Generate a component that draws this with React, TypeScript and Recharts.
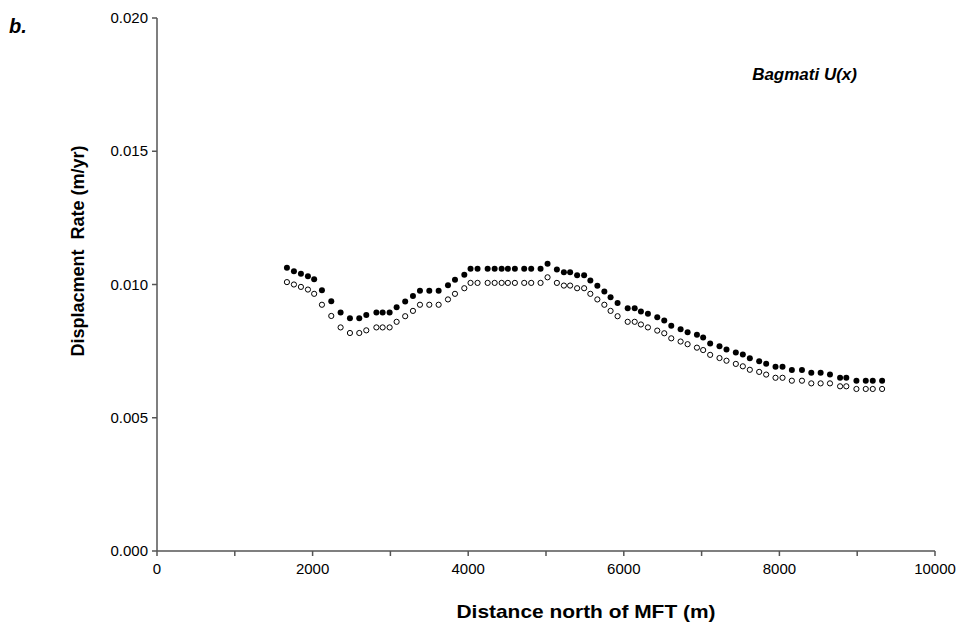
import React from 'react';
import { ScatterChart, Scatter, XAxis, YAxis } from 'recharts';

// distance north of MFT (m)
const distances = [
  1670, 1760, 1850, 1940, 2020, 2120, 2240, 2360, 2480, 2600,
  2690, 2820, 2900, 2990, 3080, 3190, 3290, 3380, 3500, 3620,
  3740, 3830, 3950, 4030, 4120, 4250, 4340, 4430, 4510, 4600,
  4720, 4810, 4930, 5020, 5140, 5230, 5310, 5400, 5490, 5570,
  5660, 5750, 5830, 5920, 6050, 6140, 6220, 6310, 6430, 6520,
  6610, 6730, 6820, 6940, 7020, 7110, 7230, 7320, 7440, 7530,
  7620, 7740, 7830, 7950, 8040, 8160, 8290, 8410, 8530, 8650,
  8780, 8860, 8990, 9110, 9200, 9320,
];

// filled markers
const rateFilled = [
  0.01063, 0.0105, 0.0104, 0.01031, 0.0102, 0.00978, 0.00937, 0.00895, 0.00873, 0.00873,
  0.00886, 0.00895, 0.00895, 0.00895, 0.00915, 0.00936, 0.00957, 0.00977, 0.00977, 0.00977,
  0.00997, 0.01018, 0.01037, 0.01059, 0.01059, 0.01059, 0.01059, 0.01059, 0.01059, 0.01059,
  0.01059, 0.01059, 0.01059, 0.01078, 0.01056, 0.01046, 0.01046, 0.01035, 0.01035, 0.01015,
  0.00995, 0.00974, 0.00952, 0.00931, 0.00911, 0.00911, 0.00899, 0.0089, 0.00877, 0.00865,
  0.00845, 0.00832, 0.00821, 0.00811, 0.00801, 0.00779, 0.00768, 0.00756, 0.00745, 0.00737,
  0.00723, 0.00712, 0.00703, 0.00691, 0.00691, 0.00679, 0.00679, 0.00669, 0.00669, 0.00662,
  0.0065, 0.0065, 0.00639, 0.00639, 0.00639, 0.00639,
];

// open markers
const rateOpen = [
  0.01009, 0.01, 0.00991, 0.00981, 0.00965, 0.00924, 0.00882, 0.00839, 0.00818, 0.00818,
  0.00828, 0.00839, 0.00839, 0.00839, 0.0086, 0.00881, 0.00901, 0.00924, 0.00924, 0.00924,
  0.00944, 0.00965, 0.00986, 0.01006, 0.01006, 0.01006, 0.01006, 0.01006, 0.01006, 0.01006,
  0.01006, 0.01006, 0.01006, 0.01027, 0.01006, 0.00996, 0.00996, 0.00986, 0.00986, 0.00965,
  0.00944, 0.00924, 0.00901, 0.00881, 0.0086, 0.0086, 0.0085, 0.00839, 0.00827, 0.00817,
  0.00798, 0.00786, 0.00776, 0.00763, 0.00754, 0.00736, 0.00724, 0.00714, 0.00702, 0.00693,
  0.0068, 0.00672, 0.00662, 0.0065, 0.0065, 0.00639, 0.00639, 0.00629, 0.00629, 0.00629,
  0.00618, 0.00618, 0.00608, 0.00608, 0.00608, 0.00608,
];

const xTicks = [0, 1000, 2000, 3000, 4000, 5000, 6000, 7000, 8000, 9000, 10000];
const yTicks = [0, 0.005, 0.01, 0.015, 0.02];

const filledData = distances.map((x, i) => ({ x, y: rateFilled[i] }));
const openData = distances.map((x, i) => ({ x, y: rateOpen[i] }));

const FONT = '"Liberation Sans", Arial, sans-serif';
const AXIS = '#555';

const XTick = (props: any) => {
  const { x, y, payload } = props;
  if (payload.value % 2000 !== 0) return null;
  return (
    <text x={x} y={y + 16} textAnchor="middle" fontSize={15} fontFamily={FONT} fill="#000">
      {payload.value}
    </text>
  );
};

const YTick = (props: any) => {
  const { x, y, payload } = props;
  return (
    <text x={x - 2} y={y + 5} textAnchor="end" fontSize={15} fontFamily={FONT} fill="#000">
      {payload.value.toFixed(3)}
    </text>
  );
};

const FilledDot = (props: any) => {
  const { cx, cy } = props;
  return <circle cx={cx} cy={cy} r={3} fill="#000" />;
};

const OpenDot = (props: any) => {
  const { cx, cy } = props;
  return <circle cx={cx} cy={cy} r={2.6} fill="#fff" stroke="#000" strokeWidth={1} />;
};

export default function App() {
  return (
    <div style={{ position: 'absolute', left: 0, top: 0, width: 964, height: 635, background: '#fff' }}>
      <ScatterChart width={964} height={635} margin={{ top: 18, right: 29, bottom: 0, left: 0 }}>
        <XAxis
          type="number"
          dataKey="x"
          domain={[0, 10000]}
          ticks={xTicks}
          interval={0}
          height={84}
          axisLine={{ stroke: AXIS, strokeWidth: 1.5 }}
          tickLine={{ stroke: AXIS, strokeWidth: 1.5 }}
          tickSize={5}
          tick={<XTick />}
        />
        <YAxis
          type="number"
          dataKey="y"
          domain={[0, 0.02]}
          ticks={yTicks}
          interval={0}
          width={157}
          axisLine={{ stroke: AXIS, strokeWidth: 1.5 }}
          tickLine={{ stroke: AXIS, strokeWidth: 1.5 }}
          tickSize={5}
          tick={<YTick />}
        />
        <Scatter data={openData} shape={<OpenDot />} isAnimationActive={false} />
        <Scatter data={filledData} shape={<FilledDot />} isAnimationActive={false} />
        <text x={9} y={33} fontSize={20} fontWeight="bold" fontStyle="italic" fontFamily={FONT}>
          b.
        </text>
        <text x={857} y={80} textAnchor="end" fontSize={17} fontWeight="bold" fontStyle="italic" fontFamily={FONT}>
          Bagmati U(x)
        </text>
        <text
          x={586}
          y={618}
          textAnchor="middle"
          fontSize={19}
          fontWeight="bold"
          fontFamily={FONT}
          textLength={259}
          lengthAdjust="spacingAndGlyphs"
        >
          Distance north of MFT (m)
        </text>
        <text
          x={84}
          y={251}
          textAnchor="middle"
          fontSize={18}
          fontWeight="bold"
          fontFamily={FONT}
          transform="rotate(-90 84 251)"
          style={{ whiteSpace: 'pre' }}
        >
          {'Displacment  Rate (m/yr)'}
        </text>
      </ScatterChart>
    </div>
  );
}
